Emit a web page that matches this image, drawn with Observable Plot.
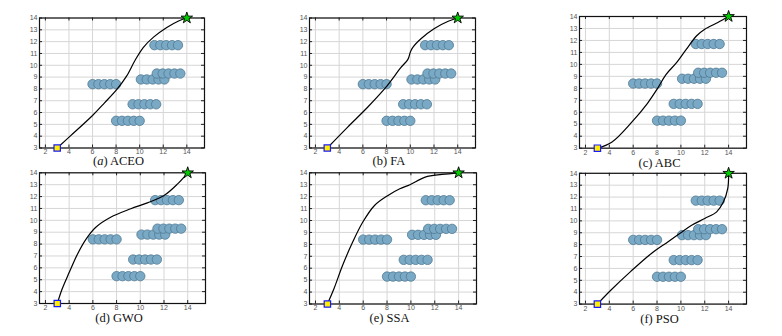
<!DOCTYPE html>
<html><head><meta charset="utf-8">
<script src="https://cdn.jsdelivr.net/npm/d3@7"></script>
<script src="https://cdn.jsdelivr.net/npm/@observablehq/plot@0.6"></script>
<style>
html,body{margin:0;padding:0;background:#fff;}
#wrap{position:relative;width:782px;height:336px;overflow:hidden;}
.panel{position:absolute;}
.cap{position:absolute;font-family:"Liberation Serif","DejaVu Serif",serif;font-size:12.5px;line-height:12px;color:#111;text-align:center;width:200px;white-space:nowrap;}
</style></head><body><div id="wrap"></div>
<script>
// ---- data ----
const xTicks = [2, 4, 6, 8, 10, 12, 14];
const yTicks = [3, 4, 5, 6, 7, 8, 9, 10, 11, 12, 13, 14];
const startPoint = [3, 3];
const goalPoint = [14, 14];
const obstacleRowY = [5.3, 6.7, 8.4, 8.8, 9.3, 11.7];
const obstacleRowX = [
  [8.0, 8.5, 9.0, 9.5, 10.0],
  [9.4, 9.9, 10.4, 10.9, 11.4],
  [6.0, 6.5, 7.0, 7.5, 8.0],
  [10.1, 10.6, 11.1, 11.6, 12.1],
  [11.45, 11.95, 12.45, 12.95, 13.45],
  [11.25, 11.75, 12.25, 12.75, 13.25]
];
const pathACEO = [[3,3],[4.1,4.0],[6,5.75],[7,6.8],[8.1,8.0],[8.9,9.1],[9.6,10.4],[10.3,11.5],[11.2,12.4],[12.3,13.2],[13.3,13.75],[14,14]];
const pathFA = [[3,3],[4.7,4.75],[6.4,6.45],[7.95,8.15],[9.2,9.8],[9.8,10.5],[10.0,11.1],[10.2,11.5],[10.9,12.25],[12.0,13.1],[13.2,13.73],[14,14]];
const pathABC = [[3,3],[4.2,3.5],[5.9,5.2],[7.2,6.75],[8.05,8.0],[8.75,9.15],[9.6,10.1],[10.45,11.25],[11.3,12.37],[12.0,12.94],[13.1,13.5],[14,14]];
const pathGWO = [[3,3],[3.4,4.2],[4.0,5.6],[4.7,7.15],[5.4,8.38],[6.25,9.42],[7.5,10.26],[9.2,10.97],[10.6,11.47],[12.0,12.09],[13.15,13.07],[14,14]];
const pathSSA = [[3,3],[3.55,4.28],[4.27,6.23],[5.12,8.19],[5.97,9.87],[6.95,11.26],[8.08,12.1],[9.07,12.66],[9.92,13.0],[11.2,13.64],[12.6,13.86],[14,14]];
const pathPSO = [[3,3],[4.1,4.14],[5.8,5.75],[7.5,7.24],[8.9,8.23],[9.9,8.93],[10.9,9.63],[12.0,10.2],[13.0,10.76],[13.57,11.6],[13.93,12.73],[14,14]];
const letters = ["a", "b", "c", "d", "e", "f"];
const names = ["ACEO", "FA", "ABC", "GWO", "SSA", "PSO"];
const paths = [pathACEO, pathFA, pathABC, pathGWO, pathSSA, pathPSO];

// ---- derived tables ----
const obstacles = obstacleRowY.flatMap((y, i) => obstacleRowX[i].map(x => ({x, y})));

// ---- layout ----
const layouts = [
  {left: 0,   top: 0,   ml: 39, mt: 17.5, w: 165, h: 130, cap: 165},
  {left: 270, top: 0,   ml: 39, mt: 17.5, w: 166, h: 130, cap: 165},
  {left: 540, top: 0,   ml: 39, mt: 16,   w: 167, h: 131.7, cap: 167},
  {left: 0,   top: 155, ml: 39, mt: 17.3, w: 166, h: 130.7, cap: 322},
  {left: 270, top: 155, ml: 39, mt: 17.3, w: 167, h: 131.2, cap: 322},
  {left: 540, top: 155, ml: 39, mt: 17.8, w: 167, h: 130.8, cap: 323}
];

const wrap = document.getElementById("wrap");
const font = "'Liberation Sans', Arial, sans-serif";

paths.forEach((pts, i) => {
  const L = layouts[i];
  const W = L.ml + L.w + 20, H = L.mt + L.h + 20;
  const path = pts.map(([x, y]) => ({x, y}));
  const tk = 3;
  const plot = Plot.plot({
    width: W, height: H,
    marginLeft: L.ml, marginTop: L.mt, marginRight: 20, marginBottom: 20,
    x: {domain: [1.5, 15.5]},
    y: {domain: [3, 14]},
    style: {background: "transparent", fontFamily: font},
    marks: [
      Plot.ruleX(xTicks, {x: d => d, stroke: "#d6d6d6", strokeWidth: 1}),
      Plot.ruleY(yTicks, {y: d => d, stroke: "#d6d6d6", strokeWidth: 1}),
      Plot.ruleX(xTicks, {x: d => d, insetTop: L.h - tk, stroke: "#222"}),
      Plot.ruleX(xTicks, {x: d => d, insetBottom: L.h - tk, stroke: "#222"}),
      Plot.ruleY(yTicks, {y: d => d, insetRight: L.w - tk, stroke: "#222"}),
      Plot.ruleY(yTicks, {y: d => d, insetLeft: L.w - tk, stroke: "#222"}),
      Plot.axisX(xTicks, {tickSize: 0, tickPadding: 1.5, fontSize: 7, color: "#555", label: null}),
      Plot.axisY(yTicks, {tickSize: 0, tickPadding: 2, fontSize: 7, color: "#555", label: null}),
      Plot.dot(obstacles, {x: "x", y: "y", r: 4.7, fill: "#7aa9c6", stroke: "#4f7892", strokeWidth: 0.8}),
      Plot.line(path, {x: "x", y: "y", curve: "catmull-rom", stroke: "#000", strokeWidth: 1.2}),
      Plot.frame({stroke: "#111", strokeWidth: 1.2}),
      Plot.dot([startPoint], {x: d => d[0], y: d => d[1], symbol: "square", r: 3.6, fill: "#ffee00", stroke: "#1a1aff", strokeWidth: 1.2}),
      Plot.dot([goalPoint], {x: d => d[0], y: d => d[1], symbol: "star", r: 3.6, fill: "#00cc00", stroke: "#000", strokeWidth: 0.9})
    ]
  });
  plot.classList.add("panel");
  plot.style.left = L.left + "px";
  plot.style.top = L.top + "px";
  wrap.appendChild(plot);

  const cap = document.createElement("div");
  cap.className = "cap";
  const cx = L.left + L.ml + L.w / 2 - 3;
  cap.style.left = (cx - 100) + "px";
  cap.style.top = (L.cap - 10) + "px";
  const open = document.createTextNode("(");
  const letter = document.createElement(i === 0 ? "i" : "span");
  letter.textContent = letters[i];
  cap.appendChild(open);
  cap.appendChild(letter);
  cap.appendChild(document.createTextNode(") " + names[i]));
  wrap.appendChild(cap);
});
</script>
</body></html>
